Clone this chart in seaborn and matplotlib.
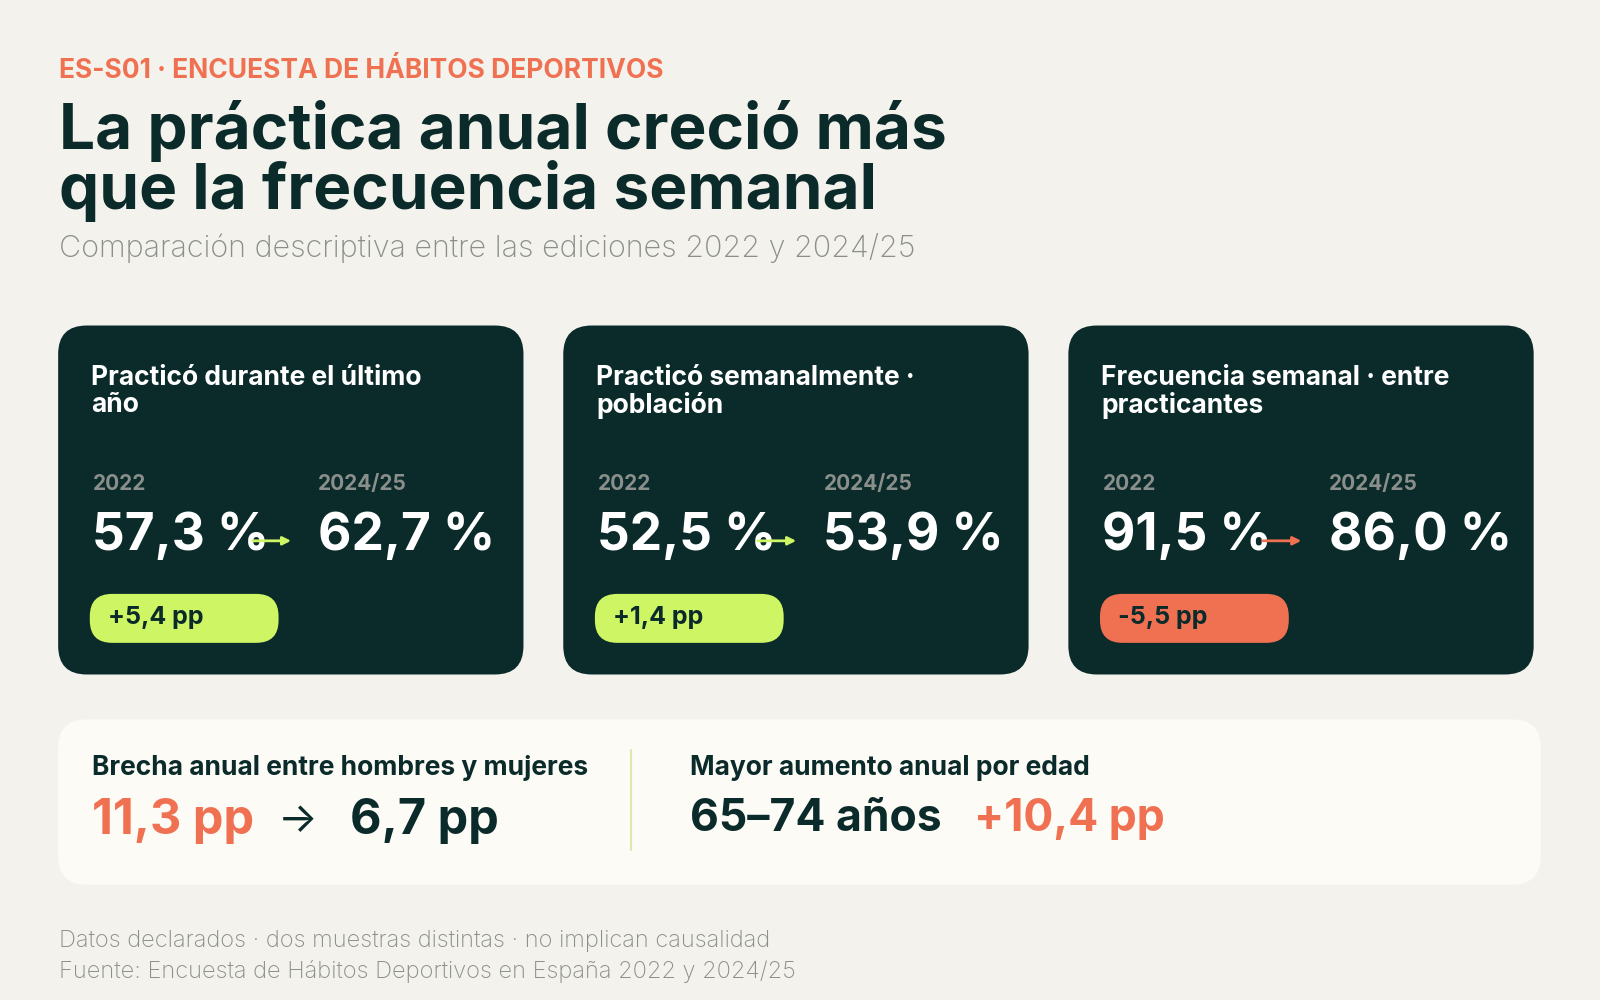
import matplotlib
matplotlib.use("Agg")
import matplotlib.pyplot as plt
from matplotlib.patches import FancyBboxPatch
import seaborn as sns

# data
card_titles = ["Practicó durante el último\naño", "Practicó semanalmente ·\npoblación",
               "Frecuencia semanal · entre\npracticantes"]
years = ["2022", "2024/25"]
values_2022 = [57.3, 52.5, 91.5]
values_2025 = [62.7, 53.9, 86.0]
gap_labels = ["Brecha anual entre hombres y mujeres", "Mayor aumento anual por edad"]
gap_2022, gap_2025 = 11.3, 6.7
age_group, age_gain = "65–74 años", 10.4

BG = "#F4F2EC"
DARK = "#0B2A2A"
ORANGE = "#F07152"
LIME = "#CDF564"
GREY = "#8A8F8C"

sns.set_theme(style="white")
plt.rcParams["font.family"] = ["Inter", "DejaVu Sans"]

fig = plt.figure(figsize=(16, 10), dpi=100, facecolor=BG)
ax = fig.add_axes([0, 0, 1, 1])
ax.set_xlim(0, 1568)
ax.set_ylim(980, 0)
ax.axis("off")
ax.set_facecolor(BG)


def fmt(v):
    return f"{v:.1f}".replace(".", ",")


ax.text(58, 70, "ES-S01 · ENCUESTA DE HÁBITOS DEPORTIVOS", color=ORANGE, fontsize=19,
        fontweight="bold", va="center")
ax.text(58, 158, "La práctica anual creció más\nque la frecuencia semanal", color=DARK,
        fontsize=46, fontweight="bold", va="center", linespacing=0.95)
ax.text(58, 243, "Comparación descriptiva entre las ediciones 2022 y 2024/25", color=GREY,
        fontsize=22, fontweight="light", va="center")

for i, title in enumerate(card_titles):
    x0 = 57 + i * 495
    ax.add_patch(FancyBboxPatch((x0, 319), 456, 342, boxstyle="round,pad=0,rounding_size=28",
                                fc=DARK, ec="none"))
    ax.text(x0 + 32, 384, title, color="white", fontsize=19, fontweight="bold",
            va="center", linespacing=1.05)
    ax.text(x0 + 34, 474, years[0], color=GREY, fontsize=15, fontweight="bold", va="center")
    ax.text(x0 + 255, 474, years[1], color=GREY, fontsize=15, fontweight="bold", va="center")
    ax.text(x0 + 33, 526, fmt(values_2022[i]) + " %", color="white", fontsize=37,
            fontweight="bold", va="center")
    ax.text(x0 + 255, 526, fmt(values_2025[i]) + " %", color="white", fontsize=37,
            fontweight="bold", va="center")
    d = values_2025[i] - values_2022[i]
    col = LIME if d >= 0 else ORANGE
    ax.annotate("", xy=(x0 + 231, 530), xytext=(x0 + 188, 530),
                arrowprops=dict(arrowstyle="-|>", color=col, lw=2, mutation_scale=12))
    ax.add_patch(FancyBboxPatch((x0 + 31, 582), 185, 48, boxstyle="round,pad=0,rounding_size=22",
                                fc=col, ec="none"))
    sign = "+" if d >= 0 else "-"
    ax.text(x0 + 49, 605, f"{sign}{fmt(abs(d))} pp", color=DARK, fontsize=18,
            fontweight="bold", va="center")

ax.add_patch(FancyBboxPatch((57, 705), 1453, 162, boxstyle="round,pad=0,rounding_size=28",
                            fc="#FCFBF6", ec="none"))
ax.plot([618, 618], [735, 833], color="#DDE8B0", lw=1.5)
ax.text(90, 753, gap_labels[0], color=DARK, fontsize=19, fontweight="bold", va="center")
ax.text(90, 805, fmt(gap_2022) + " pp", color=ORANGE, fontsize=35, fontweight="bold", va="center")
ax.text(272, 805, "→", color=DARK, fontsize=30, va="center")
ax.text(343, 805, fmt(gap_2025) + " pp", color=DARK, fontsize=35, fontweight="bold", va="center")
ax.text(676, 753, gap_labels[1], color=DARK, fontsize=19, fontweight="bold", va="center")
ax.text(676, 803, age_group, color=DARK, fontsize=32, fontweight="bold", va="center")
ax.text(955, 803, "+" + fmt(age_gain) + " pp", color=ORANGE, fontsize=32, fontweight="bold",
        va="center")

ax.text(58, 922, "Datos declarados · dos muestras distintas · no implican causalidad", color=GREY,
        fontsize=17, fontweight="light", va="center")
ax.text(58, 952, "Fuente: Encuesta de Hábitos Deportivos en España 2022 y 2024/25", color=GREY,
        fontsize=17, fontweight="light", va="center")

fig.savefig("out.png", dpi=100, facecolor=BG)
